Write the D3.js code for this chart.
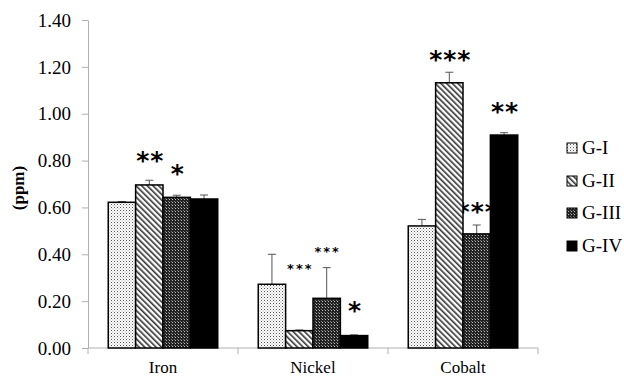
<!DOCTYPE html>
<html><head><meta charset="utf-8">
<script src="https://cdn.jsdelivr.net/npm/d3@7"></script>
<style>body{margin:0;background:#fff}svg{display:block}
.serif{font-family:'Liberation Serif','Times New Roman',serif}</style>
</head><body>
<script>
const categories = ["Iron","Nickel","Cobalt"];
const groups = ["G-I","G-II","G-III","G-IV"];
const values = {
  "G-I":   [0.622, 0.272, 0.521],
  "G-II":  [0.696, 0.074, 1.132],
  "G-III": [0.643, 0.212, 0.487],
  "G-IV":  [0.636, 0.053, 0.909]
};
const errors = {
  "G-I":   [0.003, 0.128, 0.028],
  "G-II":  [0.020, 0.003, 0.045],
  "G-III": [0.009, 0.131, 0.038],
  "G-IV":  [0.017, 0.003, 0.010]
};
const stars = {
  "G-I":   ["", "", ""],
  "G-II":  ["**", "***", "***"],
  "G-III": ["*", "***", "***"],
  "G-IV":  ["", "*", "**"]
};
// vertical level (in ppm) of each significance mark
const starLevel = {
  "G-I":   [0, 0, 0],
  "G-II":  [0.828, 0.354, 1.259],
  "G-III": [0.772, 0.427, 0.610],
  "G-IV":  [0, 0.184, 1.037]
};
const yTicks = [0,0.2,0.4,0.6,0.8,1.0,1.2,1.4];

const W=624,H=379;
const svg=d3.select("body").append("svg").attr("width",W).attr("height",H);
const defs=svg.append("defs");
const p1=defs.append("pattern").attr("id","pG1").attr("patternUnits","userSpaceOnUse").attr("width",3).attr("height",3);
p1.append("rect").attr("width",3).attr("height",3).attr("fill","#fff");
p1.append("rect").attr("x",0).attr("y",0).attr("width",1).attr("height",1).attr("fill","#555");
p1.append("rect").attr("x",1.5).attr("y",1.5).attr("width",1).attr("height",1).attr("fill","#999");
const p2=defs.append("pattern").attr("id","pG2").attr("patternUnits","userSpaceOnUse").attr("width",4).attr("height",4).attr("patternTransform","rotate(-45)");
p2.append("rect").attr("width",4).attr("height",4).attr("fill","#fff");
p2.append("rect").attr("x",0).attr("y",0).attr("width",1.6).attr("height",4).attr("fill","#333");
const p3=defs.append("pattern").attr("id","pG3").attr("patternUnits","userSpaceOnUse").attr("width",3).attr("height",3);
p3.append("rect").attr("width",3).attr("height",3).attr("fill","#222");
p3.append("rect").attr("x",1).attr("y",1).attr("width",1).attr("height",1).attr("fill","#bbb");
p3.append("rect").attr("x",0).attr("y",0).attr("width",1).attr("height",1).attr("fill","#777");
const fills={"G-I":"url(#pG1)","G-II":"url(#pG2)","G-III":"url(#pG3)","G-IV":"#000"};

const x0=d3.scaleBand().domain(categories).range([88,538]).paddingInner(0.27).paddingOuter(0.135);
const x1=d3.scaleBand().domain(groups).range([0,x0.bandwidth()]);
const y=d3.scaleLinear().domain([0,1.4]).range([348,20]);

const axisColor="#b0b0b0";
const ya=svg.append("g").attr("transform","translate(88,0)")
  .call(d3.axisLeft(y).tickValues(yTicks).tickFormat(d3.format(".2f")).tickSize(6).tickSizeOuter(0));
ya.attr("font-family",null).attr("font-size",null);
ya.select(".domain").attr("stroke",axisColor);
ya.selectAll(".tick line").attr("stroke",axisColor);
ya.selectAll(".tick text").attr("class","serif").style("font-size","19px").attr("fill","#000").attr("x",-17).attr("dy","0.33em");

const xa=svg.append("g").attr("transform","translate(0,348)");
xa.append("line").attr("x1",88).attr("x2",538).attr("stroke",axisColor);
const bounds=[88,538].concat(categories.slice(1).map(c=>x0(c)-x0.step()*x0.paddingInner()/2));
bounds.forEach(b=>xa.append("line").attr("x1",b).attr("x2",b).attr("y1",0).attr("y2",6).attr("stroke",axisColor));
categories.forEach(c=>xa.append("text").attr("class","serif").attr("x",x0(c)+x0.bandwidth()/2).attr("y",25)
  .attr("text-anchor","middle").style("font-size","17px").text(c));

svg.append("text").attr("class","serif").attr("transform","translate(24,188) rotate(-90)").attr("text-anchor","middle")
  .style("font-weight","bold").style("font-size","17px").text("(ppm)");

groups.forEach(g=>categories.forEach((c,i)=>{
  const s=stars[g][i]; if(!s) return;
  const small = c==="Nickel" && s==="***";
  const fs = small?13:25;
  const xc=x0(c)+x1(g)+x1.bandwidth()/2;
  svg.append("text").attr("x",xc+1).attr("y",y(starLevel[g][i])+fs*0.58)
    .attr("text-anchor","middle").style("font-family","'DejaVu Sans',sans-serif").style("font-weight","bold")
    .style("font-size",fs+"px").style("letter-spacing",small?"2px":"1px").text(s);
}));

groups.forEach(g=>categories.forEach((c,i)=>{
  const xc=x0(c)+x1(g)+x1.bandwidth()/2;
  const v=values[g][i], e=errors[g][i];
  svg.append("line").attr("x1",xc).attr("x2",xc).attr("y1",y(v)).attr("y2",y(v+e)).attr("stroke","#555").attr("stroke-width",1);
  svg.append("line").attr("x1",xc-4).attr("x2",xc+4).attr("y1",y(v+e)).attr("y2",y(v+e)).attr("stroke","#555").attr("stroke-width",1);
}));
groups.forEach(g=>categories.forEach((c,i)=>{
  svg.append("rect").attr("x",x0(c)+x1(g)).attr("y",y(values[g][i])).attr("width",x1.bandwidth())
    .attr("height",348-y(values[g][i])).attr("fill",fills[g]).attr("stroke","#000").attr("stroke-width",1.5);
}));

const ly=[148,181,213,246];
groups.forEach((g,i)=>{
  svg.append("rect").attr("x",567).attr("y",ly[i]-5).attr("width",10).attr("height",10).attr("fill",fills[g]).attr("stroke","#000").attr("stroke-width",1);
  svg.append("text").attr("class","serif").attr("x",582).attr("y",ly[i]+6).style("font-size","19px").text(g);
});
</script>
</body></html>
